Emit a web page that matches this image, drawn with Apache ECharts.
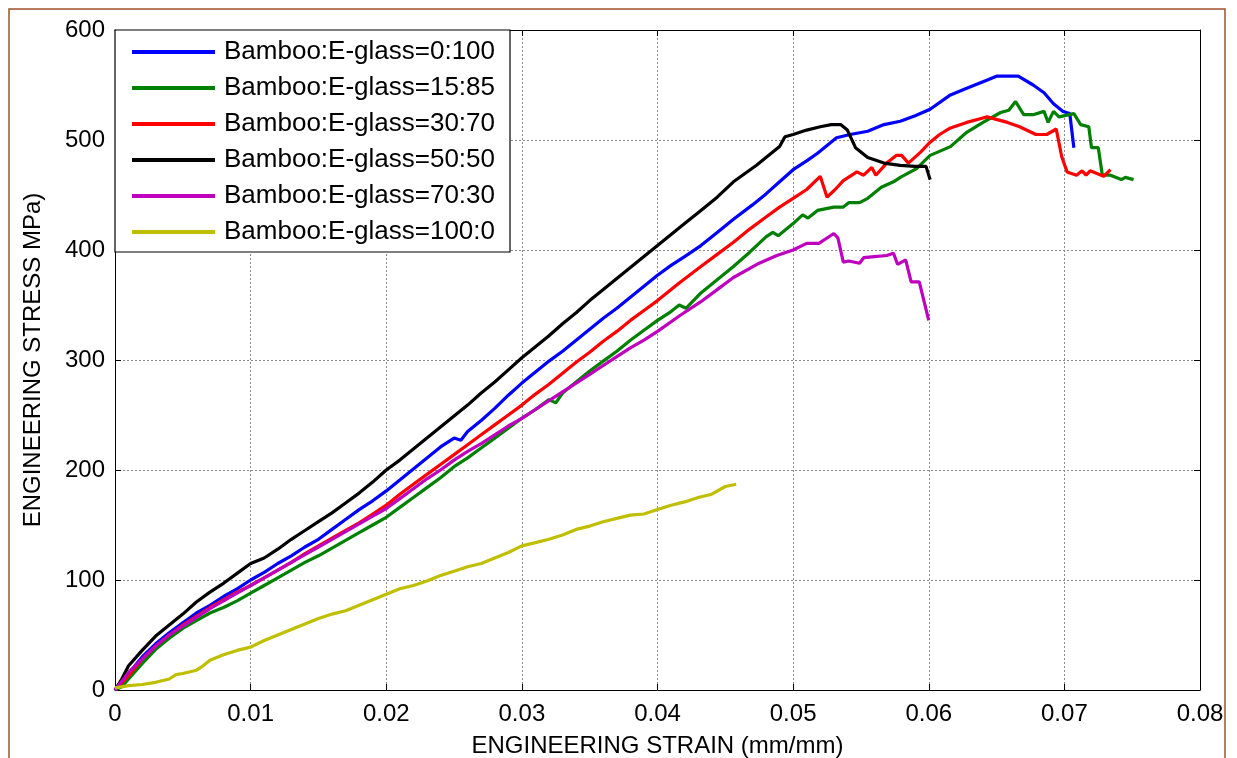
<!DOCTYPE html>
<html>
<head>
<meta charset="utf-8">
<script src="https://cdn.jsdelivr.net/npm/echarts@6/dist/echarts.min.js"></script>
<style>
html,body{margin:0;padding:0;background:#fff;}
#chart{width:1237px;height:758px;}
</style>
</head>
<body>
<div id="chart"></div>
<script>
// ---- data: [strain (mm/mm), stress (MPa)] ----
const seriesNames = ['Bamboo:E-glass=0:100','Bamboo:E-glass=15:85','Bamboo:E-glass=30:70','Bamboo:E-glass=50:50','Bamboo:E-glass=70:30','Bamboo:E-glass=100:0'];
const seriesColors = ['#0000FF','#008000','#FF0000','#000000','#BF00BF','#BFBF00'];
const xTicks = [0,0.01,0.02,0.03,0.04,0.05,0.06,0.07,0.08];
const yTicks = [0,100,200,300,400,500,600];

const blue0_100 = [[0,0],[0.001,15],[0.002,30],[0.003,42],[0.004,52],[0.005,61],[0.006,70],[0.007,77],[0.008,85],[0.009,92],[0.01,100],[0.011,107],[0.012,115],[0.013,122],[0.014,130],[0.015,137],[0.016,146],[0.017,155],[0.018,164],[0.019,172],[0.02,181],[0.021,191],[0.022,201],[0.023,211],[0.024,221],[0.025,229],[0.0255,227],[0.026,235],[0.027,245],[0.028,256],[0.029,268],[0.03,279],[0.031,289],[0.032,299],[0.033,308],[0.034,318],[0.035,328],[0.036,338],[0.037,347],[0.038,357],[0.039,367],[0.04,377],[0.041,386],[0.042,394],[0.0432,404],[0.0444,416],[0.0456,428],[0.047,441],[0.048,451],[0.049,462],[0.05,473],[0.051,481],[0.0518,488],[0.0525,495],[0.0532,502],[0.0542,505],[0.0555,508],[0.0567,514],[0.0579,517],[0.059,522],[0.0601,528],[0.0616,541],[0.0628,547],[0.064,553],[0.065,558],[0.0666,558],[0.0677,550],[0.0685,543],[0.0692,533],[0.0699,526],[0.0704,524],[0.0707,493]];

const green15_85 = [[0,0],[0.0005,3],[0.001,10],[0.002,24],[0.003,37],[0.004,47],[0.005,56],[0.006,63],[0.007,70],[0.008,75],[0.009,81],[0.01,88],[0.011,95],[0.012,102],[0.013,109],[0.014,116],[0.015,122],[0.016,129],[0.017,136],[0.018,143],[0.019,150],[0.02,157],[0.021,166],[0.022,175],[0.023,184],[0.024,193],[0.025,203],[0.026,211],[0.027,220],[0.028,229],[0.029,238],[0.03,247],[0.031,255],[0.032,264],[0.0325,261],[0.033,270],[0.034,280],[0.035,290],[0.036,299],[0.037,308],[0.038,318],[0.039,327],[0.04,336],[0.041,344],[0.0416,350],[0.0421,347],[0.0432,361],[0.0444,373],[0.0456,385],[0.0468,398],[0.048,412],[0.0485,416],[0.0489,413],[0.05,424],[0.0507,432],[0.0511,429],[0.0518,436],[0.053,439],[0.0537,439],[0.0541,443],[0.0549,443],[0.0555,447],[0.0565,457],[0.0574,462],[0.0579,466],[0.0591,474],[0.0601,486],[0.0616,494],[0.0628,507],[0.064,516],[0.0653,525],[0.0659,527],[0.0664,535],[0.067,523],[0.0677,523],[0.0685,526],[0.0688,516],[0.0692,526],[0.0696,521],[0.0707,524],[0.0712,514],[0.0718,512],[0.072,493],[0.0725,493],[0.0728,468],[0.0734,468],[0.0742,464],[0.0745,466],[0.0751,464]];

const red30_70 = [[0,0],[0.001,13],[0.002,28],[0.003,40],[0.004,50],[0.005,59],[0.006,67],[0.007,75],[0.008,82],[0.009,89],[0.01,95],[0.011,102],[0.012,109],[0.013,116],[0.014,124],[0.015,131],[0.016,138],[0.017,145],[0.018,152],[0.019,160],[0.02,168],[0.021,178],[0.022,187],[0.023,196],[0.024,205],[0.025,214],[0.026,223],[0.027,232],[0.028,241],[0.029,250],[0.03,259],[0.031,269],[0.032,278],[0.033,288],[0.034,298],[0.035,307],[0.036,317],[0.037,326],[0.038,336],[0.039,345],[0.04,354],[0.0416,370],[0.0432,385],[0.0444,396],[0.0456,407],[0.0468,419],[0.048,430],[0.049,439],[0.05,447],[0.051,455],[0.052,467],[0.0525,448],[0.0531,455],[0.0537,463],[0.0547,471],[0.0552,468],[0.0558,475],[0.0561,468],[0.0569,479],[0.0576,486],[0.058,486],[0.0585,479],[0.0594,489],[0.0601,498],[0.0608,505],[0.0616,511],[0.0628,516],[0.064,520],[0.0643,521],[0.0658,516],[0.0667,512],[0.0679,505],[0.0687,505],[0.0694,510],[0.0698,485],[0.0702,471],[0.0709,468],[0.0713,472],[0.0716,468],[0.0719,472],[0.0729,467],[0.0734,473]];

const black50_50 = [[0,0],[0.0005,10],[0.001,22],[0.002,36],[0.003,49],[0.004,59],[0.005,69],[0.006,80],[0.007,89],[0.008,97],[0.009,106],[0.01,115],[0.011,120],[0.012,128],[0.013,137],[0.014,145],[0.015,153],[0.016,161],[0.017,170],[0.018,179],[0.019,189],[0.02,200],[0.021,209],[0.022,219],[0.023,229],[0.024,239],[0.025,249],[0.026,259],[0.027,270],[0.028,280],[0.029,291],[0.03,302],[0.031,312],[0.032,322],[0.033,333],[0.034,343],[0.035,354],[0.036,364],[0.037,374],[0.038,384],[0.039,394],[0.04,404],[0.041,414],[0.042,424],[0.0432,436],[0.0444,448],[0.0456,462],[0.0465,470],[0.0473,477],[0.048,484],[0.049,494],[0.0494,503],[0.05,505],[0.051,509],[0.052,512],[0.0528,514],[0.0535,514],[0.054,509],[0.0546,493],[0.0555,484],[0.0567,479],[0.0579,477],[0.059,476],[0.0598,476],[0.0601,464]];

const magenta70_30 = [[0,0],[0.001,16],[0.002,28],[0.003,40],[0.004,50],[0.005,58],[0.006,66],[0.007,74],[0.008,81],[0.009,88],[0.01,95],[0.011,102],[0.012,109],[0.013,116],[0.014,123],[0.015,130],[0.016,137],[0.017,144],[0.018,151],[0.019,158],[0.02,165],[0.021,174],[0.022,183],[0.023,192],[0.024,200],[0.025,209],[0.026,217],[0.027,224],[0.028,232],[0.029,240],[0.03,247],[0.031,255],[0.032,263],[0.033,271],[0.034,279],[0.035,287],[0.036,295],[0.037,303],[0.038,311],[0.039,318],[0.04,326],[0.0416,340],[0.0432,353],[0.0444,364],[0.0456,375],[0.0475,388],[0.0488,395],[0.05,400],[0.051,406],[0.0519,406],[0.053,415],[0.0533,411],[0.0537,389],[0.0541,390],[0.0549,388],[0.0552,393],[0.056,394],[0.0569,395],[0.0574,397],[0.0577,387],[0.0583,391],[0.0587,371],[0.0593,371],[0.06,336]];

const yellow100_0 = [[0,2],[0.001,4],[0.002,5],[0.003,7],[0.004,10],[0.0045,14],[0.005,15],[0.006,18],[0.0065,22],[0.007,27],[0.008,32],[0.009,36],[0.01,39],[0.011,45],[0.012,50],[0.013,55],[0.014,60],[0.015,65],[0.016,69],[0.017,72],[0.018,77],[0.019,82],[0.02,87],[0.021,92],[0.022,95],[0.023,99],[0.024,104],[0.025,108],[0.026,112],[0.027,115],[0.028,120],[0.029,125],[0.03,131],[0.031,134],[0.032,137],[0.033,141],[0.034,146],[0.035,149],[0.036,153],[0.037,156],[0.038,159],[0.039,160],[0.04,164],[0.041,168],[0.042,171],[0.043,175],[0.044,178],[0.045,185],[0.0458,187]];

const allData = [blue0_100, green15_85, red30_70, black50_50, magenta70_30, yellow100_0];

const FONT = 'Liberation Sans, Arial, sans-serif';
const chart = echarts.init(document.getElementById('chart'), null, {renderer:'canvas'});

const tickStyle = {show:true, inside:true, length:6, lineStyle:{color:'#000', width:1}};
const gridLine = {show:true, lineStyle:{color:'#8c8c8c', type:[2,2], width:1}};

const option = {
  animation:false,
  backgroundColor:'#fff',
  textStyle:{fontFamily:FONT},
  graphic:[{type:'rect', silent:true, shape:{x:9, y:9, width:1216, height:800}, style:{fill:'none', stroke:'#A0522D', lineWidth:1.5}, z:-1}],
  grid:{left:115, right:37, top:30, bottom:68, containLabel:false, outerBoundsMode:'none'},
  legend:{
    orient:'vertical', left:115, top:30,
    backgroundColor:'#fff', borderColor:'#000', borderWidth:1.2, borderRadius:0,
    padding:[9,15,7,17], itemGap:10, itemWidth:83, itemHeight:4, icon:'rect',
    textStyle:{fontSize:26, color:'#000', fontFamily:FONT, padding:[0,0,0,4]},
    data:seriesNames
  },
  xAxis:[
    {type:'value', min:0, max:0.08, interval:0.01, position:'bottom',
     axisLine:{show:true, onZero:false, lineStyle:{color:'#000', width:1}},
     axisTick:tickStyle, splitLine:gridLine,
     axisLabel:{color:'#000', fontSize:24, margin:12, fontFamily:FONT,
       formatter:function(v){ const i = xTicks.findIndex(t=>Math.abs(t-v)<1e-9); return i>=0 ? String(xTicks[i]) : ''; }},
     name:'ENGINEERING STRAIN (mm/mm)', nameLocation:'middle', nameGap:44,
     nameTextStyle:{color:'#000', fontSize:24, fontFamily:FONT}},
    {type:'value', min:0, max:0.08, interval:0.01, position:'top',
     axisLine:{show:true, onZero:false, lineStyle:{color:'#000', width:1}},
     axisTick:tickStyle, axisLabel:{show:false}, splitLine:{show:false}}
  ],
  yAxis:[
    {type:'value', min:0, max:600, interval:100, position:'left',
     axisLine:{show:true, onZero:false, lineStyle:{color:'#000', width:1}},
     axisTick:tickStyle, splitLine:gridLine,
     axisLabel:{color:'#000', fontSize:24, margin:10, fontFamily:FONT,
       formatter:function(v){ return yTicks.indexOf(v)>=0 ? String(v) : ''; }},
     name:'ENGINEERING STRESS MPa)', nameLocation:'middle', nameGap:70, nameRotate:90,
     nameTextStyle:{color:'#000', fontSize:24, fontFamily:FONT}},
    {type:'value', min:0, max:600, interval:100, position:'right',
     axisLine:{show:true, onZero:false, lineStyle:{color:'#000', width:1}},
     axisTick:tickStyle, axisLabel:{show:false}, splitLine:{show:false}}
  ],
  series: seriesNames.map(function(n,i){
    return {name:n, type:'line', xAxisIndex:0, yAxisIndex:0, data:allData[i],
      symbol:'none', showSymbol:false, smooth:false,
      color:seriesColors[i], itemStyle:{color:seriesColors[i]},
      lineStyle:{color:seriesColors[i], width:3.2}, z:2+i};
  })
};
chart.setOption(option);
</script>
</body>
</html>
